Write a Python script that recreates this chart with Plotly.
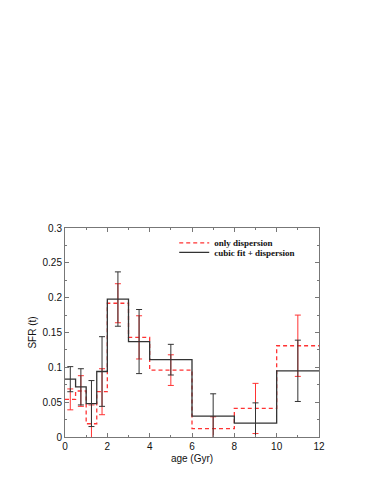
import plotly.graph_objects as go

# bin edges (Gyr) and bin centres
edges = [0, 0.5, 1.0, 1.5, 2.0, 3.0, 4.0, 6.0, 8.0, 10.0, 12.0]
centers = [0.25, 0.75, 1.25, 1.75, 2.5, 3.5, 5.0, 7.0, 9.0, 11.0]

# only dispersion (red dashed)
sfr_disp = [0.054, 0.066, 0.019, 0.065, 0.192, 0.143, 0.096, 0.012, 0.041, 0.131]
err_disp = [0.015, 0.022, 0.027, 0.033, 0.028, 0.031, 0.022, 0.017, 0.036, 0.044]

# cubic fit + dispersion (black solid)
sfr_cubic = [0.083, 0.072, 0.048, 0.094, 0.198, 0.137, 0.111, 0.030, 0.020, 0.095]
err_cubic = [0.018, 0.026, 0.033, 0.050, 0.039, 0.046, 0.022, 0.032, 0.029, 0.044]

xticks = [0, 2, 4, 6, 8, 10, 12]
yticks = [0, 0.05, 0.1, 0.15, 0.2, 0.25, 0.3]

RED = "#ff3333"
BLACK = "#333333"

fig = go.Figure()

# red histogram step + error bars
fig.add_trace(go.Scatter(
    x=edges, y=sfr_disp + [sfr_disp[-1]], mode="lines", line_shape="hv",
    line=dict(color=RED, width=1.3, dash="4px,3px"),
    name="only dispersion", legend="legend"))
fig.add_trace(go.Scatter(
    x=centers, y=sfr_disp, mode="markers", marker=dict(size=0.1, color=RED),
    error_y=dict(type="data", array=err_disp, color=RED, thickness=1, width=3),
    showlegend=False, hoverinfo="skip"))

# black histogram step + error bars
fig.add_trace(go.Scatter(
    x=edges, y=sfr_cubic + [sfr_cubic[-1]], mode="lines", line_shape="hv",
    line=dict(color=BLACK, width=1.3),
    name="cubic fit + dispersion", legend="legend2"))
fig.add_trace(go.Scatter(
    x=centers, y=sfr_cubic, mode="markers", marker=dict(size=0.1, color=BLACK),
    error_y=dict(type="data", array=err_cubic, color=BLACK, thickness=1, width=3),
    showlegend=False, hoverinfo="skip"))

axis_common = dict(
    showgrid=False, zeroline=False, showline=True, linecolor="#777777",
    linewidth=1, mirror="allticks", ticks="inside", ticklen=4,
    tickcolor="#777777", tickfont=dict(family="Liberation Sans, Arial", size=10, color="#111111"),
)

legend_font = dict(family="Liberation Serif, Times New Roman", size=9, color="#111111", weight="bold")

fig.update_layout(
    width=382, height=494,
    margin=dict(l=57, r=71, t=220, b=65),
    paper_bgcolor="white", plot_bgcolor="white",
    xaxis=dict(range=[0, 12], tickvals=xticks, ticktext=[str(v) for v in xticks],
               minor=dict(ticks="inside", ticklen=2, dtick=1, tickcolor="#777777"),
               title=dict(text="age (Gyr)", font=dict(family="Liberation Sans, Arial", size=10, color="#111111"),
                          standoff=3),
               **axis_common),
    yaxis=dict(range=[0, 0.3], tickvals=yticks, ticktext=["0", "0.05", "0.1", "0.15", "0.2", "0.25", "0.3"],
               minor=dict(ticks="inside", ticklen=2, dtick=0.025, tickcolor="#777777"),
               title=dict(text="SFR (t)", font=dict(family="Liberation Sans, Arial", size=10, color="#111111"),
                          standoff=4),
               **axis_common),
    legend=dict(x=0.43, y=0.998, xanchor="left", yanchor="top", bgcolor="rgba(0,0,0,0)",
                font=legend_font, itemwidth=30),
    legend2=dict(x=0.43, y=0.953, xanchor="left", yanchor="top", bgcolor="rgba(0,0,0,0)",
                 font=legend_font, itemwidth=30),
    showlegend=True,
)

fig.write_html("out.html")
